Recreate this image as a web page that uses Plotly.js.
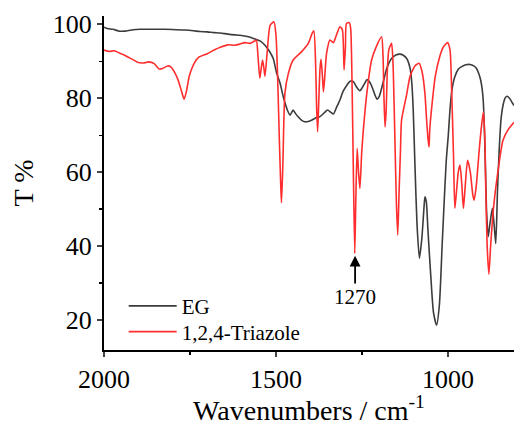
<!DOCTYPE html>
<html>
<head>
<meta charset="utf-8">
<script src="https://cdn.plot.ly/plotly-3.0.1.min.js"></script>
<style>html,body{margin:0;padding:0;background:#fff;}#chart{width:514px;height:426px;}</style>
</head>
<body>
<div id="chart"></div>
<script>
// Wavenumbers (cm^-1) and transmittance (%)
const egWavenumbers = [2000,1990,1974,1955,1939,1920,1895,1860,1823,1790,1765,1740,1721,1700,1680,1663,1640,1620,1605,1580,1561,1545,1532,1520,1508,1498,1488,1479,1472,1467,1459,1454,1450,1443,1435,1425,1416,1406,1397,1385,1372,1360,1350,1341,1333,1324,1314,1305,1294,1285,1280,1273,1267,1256,1245,1235,1227,1219,1212,1206,1200,1193,1185,1178,1164,1150,1140,1130,1120,1110,1105,1101,1096,1090,1083,1076,1070,1067,1063,1058,1050,1042,1033,1025,1017,1012,1005,999,994,988,980,970,960,948,936,925,917,910,905,900,897,892,888,883,878,871,866,861,856,851,846,840,834,828,820,812,808];
const egT = [99.2,98.8,98.6,98.1,98.1,98.4,98.6,98.6,98.6,98.5,98.4,98.2,98.0,97.9,97.7,97.6,97.3,97.1,97.0,96.6,96.0,95.4,94.3,92.8,90.7,86.7,84.0,80.4,78.2,76.8,75.4,76.2,76.8,75.8,74.9,74.0,73.6,73.7,74.0,74.6,75.0,76.0,76.8,76.2,75.7,77.5,79.5,81.8,83.5,84.5,84.7,84.2,83.2,82.0,83.5,85.0,84.3,82.6,80.8,79.7,80.4,82.6,85.5,88.0,90.7,91.7,91.9,91.6,90.7,88.0,84.0,76.8,62.0,46.0,36.7,42.0,50.0,53.3,52.0,44.0,32.0,22.0,18.6,24.0,40.0,50.0,63.0,70.0,77.0,82.5,85.8,87.8,88.5,89.0,89.1,88.7,88.0,86.5,84.9,82.0,78.6,65.0,50.0,42.5,46.0,50.2,46.0,40.7,55.0,66.0,74.0,78.0,80.0,80.5,79.8,78.6,78.0];

const trzWavenumbers = [2000,1985,1970,1955,1940,1920,1900,1885,1870,1855,1840,1830,1815,1805,1795,1785,1775,1767,1760,1752,1740,1725,1700,1680,1660,1640,1620,1605,1590,1575,1561,1557,1552,1547,1543,1539,1535,1532,1525,1517,1506,1500,1495,1490,1486,1484,1480,1474,1464,1450,1426,1406,1395,1390,1385,1382,1379,1376,1372,1369,1365,1362,1358,1353,1343,1333,1326,1314,1307,1302,1298,1295,1287,1283,1279,1275,1271,1268,1264,1260,1256,1251,1246,1235,1222,1208,1193,1189,1186,1183,1180,1176,1172,1164,1160,1155,1150,1146,1142,1138,1135,1120,1110,1095,1084,1075,1067,1062,1058,1055,1053,1046,1037,1024,1013,1001,994,989,984,980,975,970,965,960,955,950,943,935,928,924,918,910,903,897,893,890,886,881,876,868,855,840,825,808];
const trzT = [93.0,92.6,92.8,92.2,91.6,90.6,89.6,89.5,89.8,89.4,87.9,88.0,88.7,88.4,87.0,85.0,82.0,79.7,82.0,86.0,89.0,91.0,92.0,93.0,93.8,94.4,94.3,94.6,95.0,94.8,95.5,95.7,91.0,85.4,88.0,90.3,88.0,85.9,93.0,99.7,100.6,97.0,85.0,68.0,56.0,51.7,62.0,81.3,86.7,90.3,92.5,94.8,97.5,98.2,90.0,78.0,70.9,78.0,88.0,90.5,86.0,81.7,86.0,92.0,95.7,95.0,96.6,99.3,98.5,87.6,94.0,100.2,100.4,99.0,85.0,60.0,38.0,52.0,66.4,60.0,55.6,65.0,71.4,82.0,90.3,94.0,96.6,92.0,80.0,72.2,76.0,88.0,93.0,94.8,90.0,72.0,52.0,43.0,55.0,66.0,74.0,81.0,86.0,88.8,89.4,87.0,81.3,74.0,69.0,66.8,71.4,78.6,85.8,91.2,93.9,95.0,93.0,81.3,65.0,50.2,55.0,60.0,61.9,57.0,50.2,56.0,63.2,60.0,54.0,52.4,56.0,65.0,72.0,76.3,70.0,55.0,40.0,32.4,40.0,50.0,60.0,68.6,71.5,73.5];

const seriesNames = ['EG', '1,2,4-Triazole'];
const xTickVals = [2000, 1500, 1000];
const yTickVals = [20, 40, 60, 80, 100];
const peakLabel = '1270';
const peakWavenumber = 1270;

const serif = "'Liberation Serif', 'Times New Roman', serif";

const traces = [
  {x: egWavenumbers, y: egT, name: seriesNames[0], type: 'scatter', mode: 'lines', legend: 'legend',
   line: {color: 'rgb(60,60,60)', width: 1.6, shape: 'spline', smoothing: 0.6}},
  {x: trzWavenumbers, y: trzT, name: seriesNames[1], type: 'scatter', mode: 'lines', legend: 'legend2',
   line: {color: 'rgb(255,45,45)', width: 1.6, shape: 'spline', smoothing: 0.6}}
];

const legendBase = {xanchor: 'left', yanchor: 'middle', x: 0.048,
  font: {family: serif, size: 21, color: '#000'}, bgcolor: 'rgba(0,0,0,0)', itemwidth: 48};

const layout = {
  width: 514, height: 426,
  margin: {l: 104, r: 0, t: 16, b: 76},
  paper_bgcolor: '#fff', plot_bgcolor: '#fff',
  font: {family: serif, color: '#000'},
  showlegend: true,
  legend: Object.assign({}, legendBase, {y: 0.131}),
  legend2: Object.assign({}, legendBase, {y: 0.054}),
  xaxis: {range: [2000, 808], tickvals: xTickVals, ticks: 'outside', ticklen: 5, tickwidth: 1.5,
          showline: true, linecolor: '#000', linewidth: 2, showgrid: false, zeroline: false,
          tickfont: {family: serif, size: 26, color: '#000'},
          minor: {dtick: 250, tick0: 0, ticks: 'outside', ticklen: 3, tickwidth: 1.2, tickcolor: '#000', showgrid: false},
          title: {text: 'Wavenumbers / cm<sup>-1</sup>', font: {family: serif, size: 28, color: '#000'}, standoff: 12}},
  yaxis: {range: [11.9, 102.2], tickvals: yTickVals, ticks: 'outside', ticklen: 5, tickwidth: 1.5,
          showline: true, linecolor: '#000', linewidth: 2, showgrid: false, zeroline: false,
          tickfont: {family: serif, size: 26, color: '#000'},
          minor: {dtick: 10, tick0: 0, ticks: 'outside', ticklen: 3, tickwidth: 1.2, tickcolor: '#000', showgrid: false},
          title: {text: 'T %', font: {family: serif, size: 28, color: '#000'}, standoff: 11}},
  annotations: [
    {x: peakWavenumber, y: 37.4, ax: peakWavenumber, ay: 26.2, xref: 'x', yref: 'y', axref: 'x', ayref: 'y',
     text: peakLabel, showarrow: true, arrowhead: 2, arrowsize: 1.2, arrowwidth: 1.8, arrowcolor: '#000',
     font: {family: serif, size: 21, color: '#000'}}
  ]
};

Plotly.newPlot('chart', traces, layout, {displayModeBar: false, staticPlot: true});
</script>
</body>
</html>
